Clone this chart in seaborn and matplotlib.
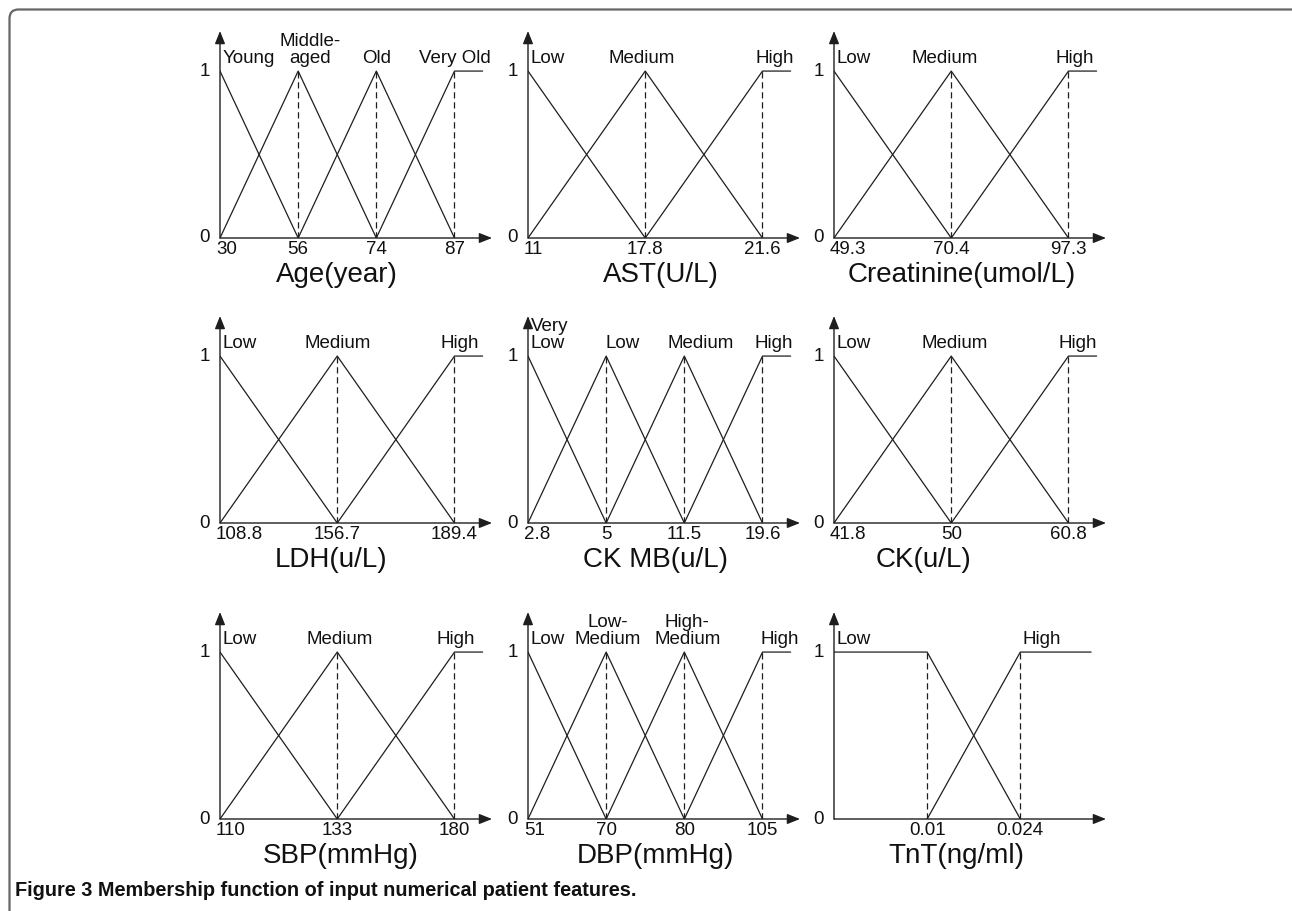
import numpy as np
import pandas as pd
import seaborn as sns
import matplotlib.pyplot as plt
from matplotlib.patches import FancyBboxPatch
from matplotlib.transforms import IdentityTransform
from matplotlib import font_manager

# 各特征的断点（横轴刻度）与语言变量
age_x = [30, 56, 74, 87]
age_terms = ['Young', 'Middle-\naged', 'Old', 'Very Old']
ast_x = [11, 17.8, 21.6]
ast_terms = ['Low', 'Medium', 'High']
creat_x = [49.3, 70.4, 97.3]
creat_terms = ['Low', 'Medium', 'High']
ldh_x = [108.8, 156.7, 189.4]
ldh_terms = ['Low', 'Medium', 'High']
ckmb_x = [2.8, 5, 11.5, 19.6]
ckmb_terms = ['Very\nLow', 'Low', 'Medium', 'High']
ck_x = [41.8, 50, 60.8]
ck_terms = ['Low', 'Medium', 'High']
sbp_x = [110, 133, 180]
sbp_terms = ['Low', 'Medium', 'High']
dbp_x = [51, 70, 80, 105]
dbp_terms = ['Low', 'Low-\nMedium', 'High-\nMedium', 'High']
tnt_x = [0, 0.01, 0.024]
tnt_terms = ['Low', 'High']

# TnT 为梯形隶属函数
tnt_low_x = [0, 0.01, 0.024]
tnt_low_mu = [1, 1, 0]
tnt_high_x = [0.01, 0.024]
tnt_high_mu = [0, 1]

titles = ['Age(year)', 'AST(U/L)', 'Creatinine(umol/L)',
          'LDH(u/L)', 'CK MB(u/L)', 'CK(u/L)',
          'SBP(mmHg)', 'DBP(mmHg)', 'TnT(ng/ml)']

caption = 'Figure 3 Membership function of input numerical patient features.'

LINE = '#1e1e1e'
W, H = 1292, 911


def triangle_terms(b):
    # 相邻断点构成三角形隶属函数，首项从 1 开始
    out = []
    for i in range(len(b)):
        xs, mus = [], []
        if i > 0:
            xs.append(b[i - 1])
            mus.append(0)
        xs.append(b[i])
        mus.append(1)
        if i < len(b) - 1:
            xs.append(b[i + 1])
            mus.append(0)
        out.append((xs, mus))
    return out


panels = [
    (age_x, age_terms, triangle_terms(age_x)),
    (ast_x, ast_terms, triangle_terms(ast_x)),
    (creat_x, creat_terms, triangle_terms(creat_x)),
    (ldh_x, ldh_terms, triangle_terms(ldh_x)),
    (ckmb_x, ckmb_terms, triangle_terms(ckmb_x)),
    (ck_x, ck_terms, triangle_terms(ck_x)),
    (sbp_x, sbp_terms, triangle_terms(sbp_x)),
    (dbp_x, dbp_terms, triangle_terms(dbp_x)),
    (tnt_x, tnt_terms, [(tnt_low_x, tnt_low_mu), (tnt_high_x, tnt_high_mu)]),
]

# 版面参数（像素）
col_left = [220, 528, 834]
row_y0 = [238, 523, 819]
ax_w = 272
ytop = 1.24
ax_h = 207
tip_frac = [1.16] * 8 + [1.46]
plat_frac = [1.12] * 8 + [1.38]
label_dx = [[0, 12, 0, 0], [0, -4, 12], [0, -7, 6],
            [0, 0, 5], [0, 16, 16, 11], [0, 3, 9],
            [0, 2, 1], [0, 2, 3, 17], [0, 21]]
title_fx = [0.43, 0.49, 0.47, 0.41, 0.47, 0.33, 0.445, 0.47, 0.45]

sns.set_theme(style='white')
plt.rcParams['font.family'] = ['Liberation Sans', 'DejaVu Sans']
plt.rcParams['text.color'] = '#111111'

fig = plt.figure(figsize=(W / 100, H / 100), dpi=100)

for k, (breaks, terms, shapes) in enumerate(panels):
    r, c = divmod(k, 3)
    left = col_left[c] / W
    bottom = (H - row_y0[r]) / H
    ax = fig.add_axes([left, bottom, ax_w / W, ax_h / H])

    # 示意图横轴：断点按顺序等距排列
    pos = {v: i for i, v in enumerate(breaks)}
    span = len(breaks) - 1
    xmax = span * tip_frac[k]
    plat = span * plat_frac[k]

    rows = []
    for t, (xs, mus) in enumerate(shapes):
        px = [pos[v] for v in xs]
        mu = list(mus)
        if t == len(shapes) - 1:
            px.append(plat)
            mu.append(1)
        for xv, mv in zip(px, mu):
            rows.append({'term': terms[t], 'x': xv, 'mu': mv})
    df = pd.DataFrame(rows)

    sns.lineplot(data=df, x='x', y='mu', units='term', estimator=None,
                 sort=False, color=LINE, lw=0.9, ax=ax, legend=False)
    ax.vlines([pos[v] for v in breaks[1:]], 0, 1, colors=LINE,
              linestyles=(0, (5, 3)), lw=0.9)

    ax.set_xlim(0, xmax)
    ax.set_ylim(0, ytop)
    ax.set_axis_off()

    # 坐标轴箭头
    arrow = dict(arrowstyle='-|>,head_length=0.55,head_width=0.22', color=LINE,
                 lw=1.0, mutation_scale=14, shrinkA=0, shrinkB=0)
    ax.annotate('', xy=(1, 0), xytext=(0, 0), xycoords='axes fraction', arrowprops=arrow)
    ax.annotate('', xy=(0, 1), xytext=(0, 0), xycoords='axes fraction', arrowprops=arrow)

    # 纵轴 0 / 1
    for yv in (0, 1):
        ax.annotate(str(yv), xy=(0, yv), xytext=(-10, 0), textcoords='offset pixels',
                    ha='right', va='center', fontsize=13.5)

    # 横轴刻度标签
    for i, bv in enumerate(breaks):
        if bv == 0:
            continue
        ha = 'left' if i == 0 else 'center'
        dx = -4 if i == 0 else 0
        ax.annotate(f'{bv:g}', xy=(pos[bv], 0), xytext=(dx, -3), textcoords='offset pixels',
                    ha=ha, va='top', fontsize=13.5)

    # 语言变量标签
    for t, (xs, mus) in enumerate(shapes):
        peak = pos[xs[list(mus).index(1)]]
        if t == 0:
            ax.annotate(terms[t], xy=(0, 1), xytext=(3, 4), textcoords='offset pixels',
                        ha='left', va='bottom', fontsize=13.5, linespacing=1.0,
                        multialignment='left')
        else:
            ax.annotate(terms[t], xy=(peak, 1), xytext=(label_dx[k][t], 4),
                        textcoords='offset pixels', ha='center', va='bottom',
                        fontsize=13.5, linespacing=1.0, multialignment='center')

    ax.annotate(titles[k], xy=(title_fx[k], 0), xycoords='axes fraction',
                xytext=(0, -37), textcoords='offset pixels',
                ha='center', va='center', fontsize=20)

# 外框
frame = FancyBboxPatch((9.5, -60), 1330, H - 9.5 + 60,
                       boxstyle='round,pad=0,rounding_size=9',
                       transform=IdentityTransform(), facecolor='none',
                       edgecolor='#666666', lw=1.6)
fig.add_artist(frame)

# 图注：优先使用窄体字
names = {f.name for f in font_manager.fontManager.ttflist}
cap_family = ['Liberation Sans Narrow'] if 'Liberation Sans Narrow' in names else ['Liberation Sans']
cap = fig.text(15 / W, (H - 890) / H, caption, ha='left', va='center',
               fontsize=13, fontweight='bold', color='#111111', family=cap_family)
renderer = fig.canvas.get_renderer()
w = cap.get_window_extent(renderer).width
cap.set_fontsize(13 * 621 / w)

fig.savefig('out.png', dpi=100)
